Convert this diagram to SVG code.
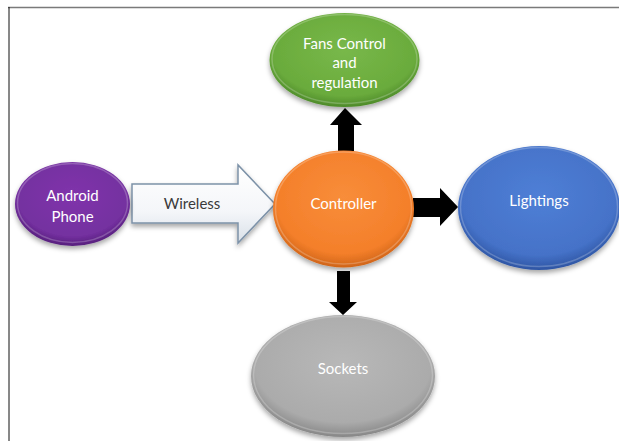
<svg xmlns="http://www.w3.org/2000/svg" width="619" height="441" viewBox="0 0 619 441">
  <defs>
    <style>
      .lbl { font-family: Lato, "Open Sans", "Liberation Sans", sans-serif; font-size: 15px; fill: #ffffff; text-anchor: middle; dominant-baseline: central; }
      .dark { fill: #3a3a3a; }
      .conn { fill: #000000; }
      .rim { fill: none; stroke: #ffffff; stroke-opacity: 0.22; stroke-width: 1.5; }
    </style>
    <filter id="shadow" x="-20%" y="-20%" width="140%" height="150%">
      <feDropShadow dx="0" dy="3" stdDeviation="2.5" flood-color="#000" flood-opacity="0.35"/>
    </filter>
    <radialGradient id="gPurple" cx="50%" cy="40%" r="60%">
      <stop offset="0" stop-color="#8034ab"/>
      <stop offset="0.8" stop-color="#7430a0"/>
      <stop offset="1" stop-color="#561f7c"/>
    </radialGradient>
    <radialGradient id="gGreen" cx="50%" cy="40%" r="60%">
      <stop offset="0" stop-color="#78b84a"/>
      <stop offset="0.8" stop-color="#6aab3c"/>
      <stop offset="1" stop-color="#4d8a2a"/>
    </radialGradient>
    <radialGradient id="gOrange" cx="50%" cy="40%" r="60%">
      <stop offset="0" stop-color="#f88d3a"/>
      <stop offset="0.8" stop-color="#f47f2a"/>
      <stop offset="1" stop-color="#cf6418"/>
    </radialGradient>
    <radialGradient id="gBlue" cx="50%" cy="40%" r="60%">
      <stop offset="0" stop-color="#4f7fd6"/>
      <stop offset="0.8" stop-color="#4572c8"/>
      <stop offset="1" stop-color="#2e55a3"/>
    </radialGradient>
    <radialGradient id="gGray" cx="50%" cy="40%" r="60%">
      <stop offset="0" stop-color="#b8b8b8"/>
      <stop offset="0.8" stop-color="#ababab"/>
      <stop offset="1" stop-color="#878787"/>
    </radialGradient>
    <linearGradient id="gArrow" x1="0" y1="0" x2="0" y2="1">
      <stop offset="0" stop-color="#ffffff"/>
      <stop offset="0.6" stop-color="#f4f6f9"/>
      <stop offset="1" stop-color="#d9e0e8"/>
    </linearGradient>
  </defs>

  <!-- frame -->
  <line x1="8" y1="7.5" x2="619" y2="7.5" stroke="#7a7a7a" stroke-width="1.5"/>
  <line x1="9" y1="7" x2="9" y2="441" stroke="#111111" stroke-width="1"/>

  <!-- connectors -->
  <g id="connectors">
    <!-- wireless link: phone to controller -->
    <g id="wireless-link">
      <path d="M132,184 H238 V165 L275,204 L238,243 V223 H132 Z" fill="url(#gArrow)" stroke="#7d92a8" stroke-width="1.5" stroke-linejoin="miter" filter="url(#shadow)"/>
      <text class="lbl dark" x="192" y="203">Wireless</text>
    </g>
    <!-- controller to fans -->
    <path class="conn" d="M338,151 V125 H330 L345,108 L362,125 H354 V151 Z"/>
    <!-- controller to lightings -->
    <path class="conn" d="M413,198 H440 V188 L458,207 L440,226 V217 H413 Z"/>
    <!-- controller to sockets -->
    <path class="conn" d="M337,271 V302 H329 L343,315 L357,302 H350 V271 Z"/>
  </g>

  <g id="android-phone">
    <ellipse cx="72.5" cy="204" rx="57.5" ry="42" fill="url(#gPurple)" filter="url(#shadow)"/>
    <ellipse class="rim" cx="72.5" cy="203" rx="55" ry="39.5"/>
    <text class="lbl" x="72.5" y="195">Android</text>
    <text class="lbl" x="72.5" y="216">Phone</text>
  </g>

  <g id="fans-control">
    <ellipse cx="344.5" cy="60" rx="75" ry="47" fill="url(#gGreen)" filter="url(#shadow)"/>
    <ellipse class="rim" cx="344.5" cy="59" rx="72.5" ry="44.5"/>
    <text class="lbl" x="344.5" y="43">Fans Control</text>
    <text class="lbl" x="344.5" y="62">and</text>
    <text class="lbl" x="344.5" y="82">regulation</text>
  </g>

  <g id="controller">
    <ellipse cx="343.5" cy="209" rx="70.5" ry="58.5" fill="url(#gOrange)" filter="url(#shadow)"/>
    <ellipse class="rim" cx="343.5" cy="208" rx="68" ry="56"/>
    <text class="lbl" x="343.5" y="203">Controller</text>
  </g>

  <g id="lightings">
    <ellipse cx="539" cy="208" rx="81" ry="62" fill="url(#gBlue)" filter="url(#shadow)"/>
    <ellipse class="rim" cx="539" cy="207" rx="78.5" ry="59.5"/>
    <text class="lbl" x="539" y="200">Lightings</text>
  </g>

  <g id="sockets">
    <ellipse cx="343" cy="376" rx="92" ry="61" fill="url(#gGray)" filter="url(#shadow)"/>
    <ellipse class="rim" cx="343" cy="375" rx="89.5" ry="58.5"/>
    <text class="lbl" x="343" y="368">Sockets</text>
  </g>
</svg>
